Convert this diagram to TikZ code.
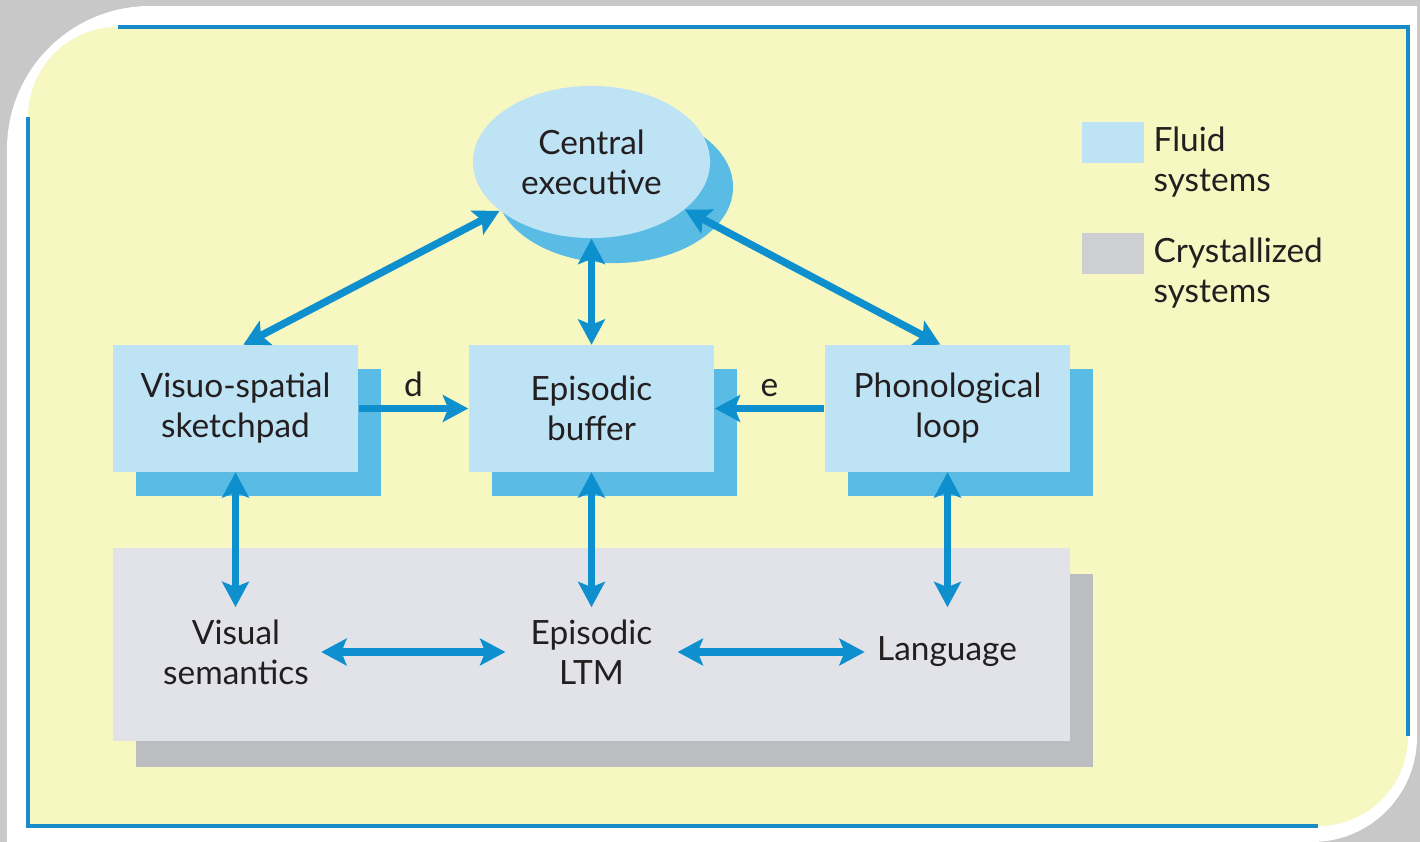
\documentclass[tikz,border=0pt]{standalone}
\usepackage{fontspec}
\setmainfont{Lato}
\usepackage{tikz}
\usetikzlibrary{arrows.meta}
\usetikzlibrary{shapes,shadows}
\usetikzlibrary{positioning}
\definecolor{bggray}{RGB}{200,200,200}
\definecolor{panel}{RGB}{247,247,193}
\definecolor{rim}{RGB}{24,140,200}
\definecolor{fluid}{RGB}{189,227,245}
\definecolor{fluiddark}{RGB}{90,188,228}
\definecolor{cryst}{RGB}{225,227,232}
\definecolor{crystdark}{RGB}{187,189,192}
\definecolor{keygray}{RGB}{205,207,211}
\definecolor{linkblue}{RGB}{14,144,207}
\definecolor{ink}{RGB}{35,31,32}
\tikzset{
  fluidbox/.style={fill=fluid, minimum width=2.45cm, minimum height=1.26cm, align=center,
    general shadow={fill=fluiddark, shadow xshift=.23cm, shadow yshift=-.24cm}},
  crystbox/.style={fill=cryst, minimum width=9.57cm, minimum height=1.93cm, inner sep=0pt,
    general shadow={fill=crystdark, shadow xshift=.23cm, shadow yshift=-.26cm}},
  keybox/.style={minimum width=.62cm, minimum height=.41cm, inner sep=0pt},
  link/.style={draw=linkblue, line width=2.1pt}
}

\begin{document}
\begin{tikzpicture}[x=0.01cm, y=-0.01cm, >={Stealth[length=7.2pt,width=7.6pt,inset=1.5pt]},
  every node/.style={font=\fontsize{9.5}{11.4}\selectfont, text=ink}]
  \useasboundingbox (0,0) rectangle (1420,842);
  \fill[bggray] (0,0) rectangle (1420,842);
  \fill[white] (7,842) -- (7,149) arc[start angle=180, end angle=270, radius=143]
    -- (1417,6) -- (1417,737) arc[start angle=0, end angle=90, radius=105] -- cycle;
  \fill[panel] (28,826) -- (28,117) arc[start angle=180, end angle=270, radius=90]
    -- (1408,27) -- (1408,736) arc[start angle=0, end angle=90, radius=90] -- cycle;
  \draw[rim, line width=1.4pt] (118,27) -- (1408,27) -- (1408,736);
  \draw[rim, line width=1.4pt] (28,117) -- (28,826) -- (1318,826);

  \node[ellipse, fill=fluid, minimum width=2.37cm, minimum height=1.52cm, inner sep=0pt, align=center,
    general shadow={fill=fluiddark, shadow xshift=.23cm, shadow yshift=-.25cm}] (ce) at (591.5,162) {Central\\executive};
  \node[fluidbox] (vss) at (235.5,408.5) {Visuo-spatial\\sketchpad};
  \node[fluidbox] (buffer) at (591.5,408.5) {Episodic\\buffer};
  \node[fluidbox] (phon) at (947.5,408.5) {Phonological\\loop};

  \node[crystbox] (store) at (591.5,644.5) {};
  \node[align=center] (vsem) at (236,652) {Visual\\semantics};
  \node[align=center, inner xsep=7pt] (eltm) at (591.5,652) {Episodic\\LTM};
  \node (lang) at (947,652) {Language};

  \draw[link,<->] (ce.208) -- ([xshift=2.2pt]vss.north);
  \draw[link,<->] (ce.south) -- (buffer.north);
  \draw[link,<->] (ce.333) -- ([xshift=-2pt]phon.north);
  \draw[link,->] (vss) -- node[above, yshift=-1pt]{d} (buffer);
  \draw[link,->] (phon) -- node[above, yshift=-1pt]{e} (buffer);
  \draw[link,<->] (vss.south) -- (vss.south |- vsem.north);
  \draw[link,<->] (buffer.south) -- (buffer.south |- eltm.north);
  \draw[link,<->] (phon.south) -- (phon.south |- eltm.north);
  \draw[link,<->] (vsem) -- (eltm);
  \draw[link,<->] (eltm) -- (lang);

  \node[keybox, fill=fluid] (keyfluid) at (1113,142.5) {};
  \node[below right=0pt and -1pt of keyfluid.north east, align=left, inner ysep=1.5pt] {Fluid\\systems};
  \node[keybox, fill=keygray] (keycryst) at (1113,253.5) {};
  \node[below right=0pt and -1pt of keycryst.north east, align=left, inner ysep=1.5pt] {Crystallized\\systems};
\end{tikzpicture}
\end{document}
